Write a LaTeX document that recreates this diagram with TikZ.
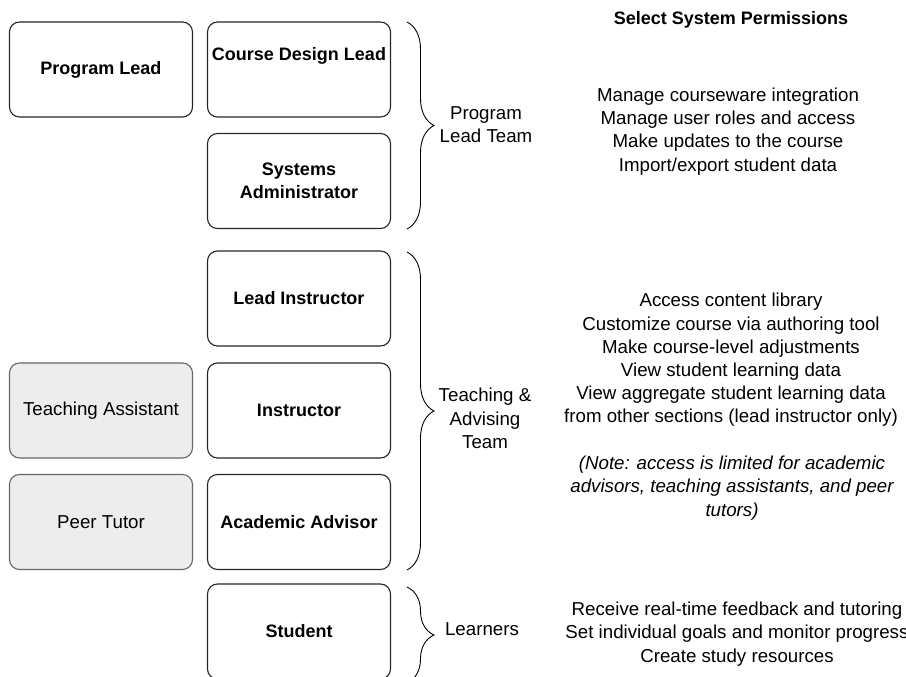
\documentclass[tikz,border=0pt]{standalone}
\usepackage{fontspec}
\setmainfont{Liberation Sans}
\usetikzlibrary{decorations.pathreplacing}

\begin{document}
\begin{tikzpicture}[x=1pt,y=-1pt,
  role/.style={draw=black!85,line width=1.1pt,rounded corners=10pt,
    minimum width=183pt,minimum height=95pt,align=center,
    font=\bfseries\fontsize{18}{23}\selectfont},
  aide/.style={role,draw=black!60,fill=black!7,font=\fontsize{18.7}{23}\selectfont},
  team/.style={decorate,decoration={brace,amplitude=27pt},line width=0.9pt},
  perm/.style={align=center,font=\fontsize{18.7}{23.2}\selectfont}]
\useasboundingbox (0,0) rectangle (906,677);

% roles
\node[role] (plead) at (101,69.5) {Program Lead};
\node[role,text height=12pt,text depth=29pt] (design) at (299,69.5) {Course Design Lead};
\node[role] (sysadmin) at (299,181) {Systems\\Administrator};
\node[role] (leadinst) at (299,298.5) {Lead Instructor};
\node[role] (inst) at (299,410.5) {Instructor};
\node[role] (advisor) at (299,522) {Academic Advisor};
\node[role] (student) at (299,631.5) {Student};
\node[aide] (ta) at (101,410.5) {Teaching Assistant};
\node[aide] (tutor) at (101,522) {Peer Tutor};

% teams
\coordinate (leadtop) at (407,22);
\coordinate (leadbot) at (407,229);
\coordinate (teachtop) at (407,252);
\coordinate (teachbot) at (407,570);
\coordinate (learntop) at (407,587);
\coordinate (learnbot) at (407,683);
\draw[team] (leadtop) -- (leadbot);
\draw[team] (teachtop) -- (teachbot);
\draw[team] (learntop) -- (learnbot);
\node[perm] (leadteam) at (486,125) {Program\\Lead Team};
\node[perm] (teachteam) at (485,418.5) {Teaching \&\\Advising\\Team};
\node[perm] (learners) at (482,629.5) {Learners};

% permissions
\node[perm,font=\bfseries\fontsize{18}{23}\selectfont] (head) at (731,20) {Select System Permissions};
\node[perm] (leadperm) at (728,131.5) {Manage courseware integration\\
  Manage user roles and access\\Make updates to the course\\Import/export student data};
\node[perm] (teachperm) at (731,360) {Access content library\\
  Customize course via authoring tool\\Make course-level adjustments\\
  View student learning data\\View aggregate student learning data\\
  from other sections (lead instructor only)};
\node[perm,font=\itshape\fontsize{18.7}{23.2}\selectfont] (note) at (732,488)
  {(Note: access is limited for academic\\advisors, teaching assistants, and peer\\tutors)};
\node[perm] (learnperm) at (737,634) {Receive real-time feedback and tutoring\\
  Set individual goals and monitor progress\\Create study resources};
\end{tikzpicture}
\end{document}
